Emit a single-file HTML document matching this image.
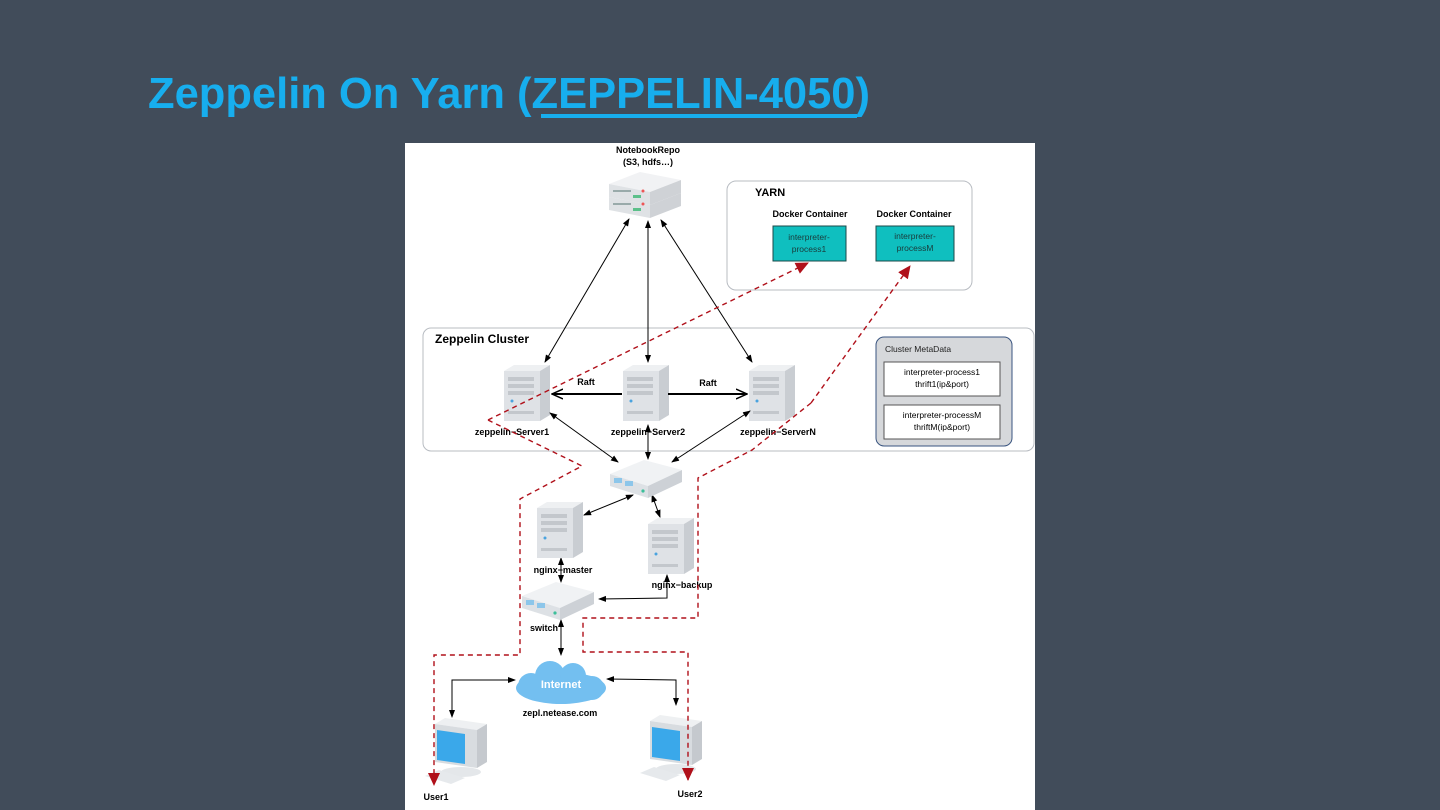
<!DOCTYPE html>
<html><head><meta charset="utf-8"><style>
html,body{margin:0;padding:0;background:#414c5a;}
svg{display:block;}
text{font-family:"Liberation Sans",sans-serif;}
</style></head><body>
<svg width="1440" height="810" viewBox="0 0 1440 810" xmlns="http://www.w3.org/2000/svg">
<defs>
  <marker id="ab" markerWidth="8" markerHeight="8" refX="7" refY="4" orient="auto-start-reverse" markerUnits="userSpaceOnUse">
    <path d="M0,1 L8,4 L0,7 Z" fill="#000"/>
  </marker>
  <marker id="ar" markerWidth="14" markerHeight="14" refX="12" refY="7" orient="auto" markerUnits="userSpaceOnUse">
    <path d="M0,1 L13,7 L0,13 Z" fill="#b0101a"/>
  </marker>
  <marker id="at" markerWidth="12" markerHeight="12" refX="11" refY="6" orient="auto-start-reverse" markerUnits="userSpaceOnUse">
    <path d="M0,1 L11,6 L0,11" fill="none" stroke="#000" stroke-width="1.5"/>
  </marker>
  <g id="tower">
    <polygon points="0,6 10,0 46,0 36,6" fill="#eef0f2"/>
    <rect x="0" y="6" width="36" height="50" fill="#dfe2e6"/>
    <polygon points="36,6 46,0 46,50 36,56" fill="#c9cdd2"/>
    <rect x="4" y="12" width="26" height="4" fill="#c3c7cc"/>
    <rect x="4" y="19" width="26" height="4" fill="#c3c7cc"/>
    <rect x="4" y="26" width="26" height="4" fill="#c3c7cc"/>
    <circle cx="8" cy="36" r="1.5" fill="#4aa3df"/>
    <rect x="4" y="46" width="26" height="3" fill="#c3c7cc"/>
  </g>
  <g id="switch">
    <polygon points="0,14 34,0 72,10 38,26" fill="#f0f2f4"/>
    <polygon points="0,14 38,26 38,38 0,26" fill="#dde1e5"/>
    <polygon points="38,26 72,10 72,22 38,38" fill="#cdd1d6"/>
    <rect x="4" y="18" width="8" height="5" fill="#8cc6ea"/>
    <rect x="15" y="21" width="8" height="5" fill="#8cc6ea"/>
    <circle cx="33" cy="31" r="1.6" fill="#3cbf9a"/>
  </g>
  <g id="pc">
    <polygon points="10,6 20,0 62,6 52,12" fill="#eef0f2"/>
    <polygon points="10,6 52,12 52,50 10,44" fill="#d8dce0"/>
    <polygon points="52,12 62,6 62,44 52,50" fill="#c5c9ce"/>
    <polygon points="12,12 40,16 40,46 12,42" fill="#3aa8ea"/>
    <ellipse cx="36" cy="54" rx="20" ry="5" fill="#e4e7ea"/>
    <polygon points="0,58 14,52 40,60 26,66" fill="#e6e9ec"/>
  </g>
</defs>

<text x="148" y="108" font-size="44" font-weight="bold" fill="#17aeee" textLength="722" lengthAdjust="spacingAndGlyphs">Zeppelin On Yarn (ZEPPELIN-4050)</text>
<rect x="541" y="114" width="316" height="4" fill="#17aeee"/>

<rect x="405" y="143" width="630" height="667" fill="#ffffff"/>

<text x="648" y="153" font-size="9" font-weight="bold" text-anchor="middle">NotebookRepo</text>
<text x="648" y="165" font-size="9" font-weight="bold" text-anchor="middle">(S3, hdfs…)</text>
<g>
  <polygon points="609,184 640,172 681,180 650,192" fill="#f1f2f4"/>
  <polygon points="609,184 650,192 650,205 609,197" fill="#dfe2e5"/>
  <polygon points="650,192 681,180 681,193 650,205" fill="#cfd2d6"/>
  <polygon points="609,197 650,205 650,218 609,210" fill="#dfe2e5"/>
  <polygon points="650,205 681,193 681,206 650,218" fill="#cfd2d6"/>
  <rect x="613" y="190" width="18" height="2" fill="#9aa"/><rect x="613" y="203" width="18" height="2" fill="#9aa"/>
  <rect x="633" y="195" width="8" height="3" fill="#5cc08a"/><rect x="633" y="208" width="8" height="3" fill="#5cc08a"/>
  <circle cx="643" cy="191" r="1.5" fill="#e55"/><circle cx="643" cy="204" r="1.5" fill="#e55"/>
</g>

<rect x="727" y="181" width="245" height="109" rx="9" fill="#fff" stroke="#b8bcc2" stroke-width="1"/>
<text x="755" y="196" font-size="11" font-weight="bold">YARN</text>
<text x="810" y="217" font-size="9" font-weight="bold" text-anchor="middle">Docker Container</text>
<text x="914" y="217" font-size="9" font-weight="bold" text-anchor="middle">Docker Container</text>
<rect x="773" y="226" width="73" height="35" fill="#0fbfbf" stroke="#1b4a4a" stroke-width="1"/>
<rect x="876" y="226" width="78" height="35" fill="#0fbfbf" stroke="#1b4a4a" stroke-width="1"/>
<text x="809" y="240" font-size="8.5" text-anchor="middle" fill="#1a3a3a">interpreter-</text>
<text x="809" y="252" font-size="8.5" text-anchor="middle" fill="#1a3a3a">process1</text>
<text x="915" y="239" font-size="8.5" text-anchor="middle" fill="#1a3a3a">interpreter-</text>
<text x="915" y="251" font-size="8.5" text-anchor="middle" fill="#1a3a3a">processM</text>

<rect x="423" y="328" width="611" height="123" rx="8" fill="#fff" stroke="#b8bcc2" stroke-width="1"/>
<text x="435" y="343" font-size="12" font-weight="bold">Zeppelin Cluster</text>

<rect x="876" y="337" width="136" height="109" rx="8" fill="#d6d8db" stroke="#3a5580" stroke-width="1"/>
<text x="885" y="352" font-size="8.5" fill="#222">Cluster MetaData</text>
<rect x="884" y="362" width="116" height="34" fill="#fff" stroke="#555"/>
<text x="942" y="375" font-size="8.5" text-anchor="middle">interpreter-process1</text>
<text x="942" y="387" font-size="8.5" text-anchor="middle">thrift1(ip&amp;port)</text>
<rect x="884" y="405" width="116" height="34" fill="#fff" stroke="#555"/>
<text x="942" y="418" font-size="8.5" text-anchor="middle">interpreter-processM</text>
<text x="942" y="430" font-size="8.5" text-anchor="middle">thriftM(ip&amp;port)</text>

<use href="#tower" x="504" y="365"/>
<use href="#tower" x="623" y="365"/>
<use href="#tower" x="749" y="365"/>
<text x="512" y="435" font-size="9" font-weight="bold" text-anchor="middle">zeppelin−Server1</text>
<text x="648" y="435" font-size="9" font-weight="bold" text-anchor="middle">zeppelin−Server2</text>
<text x="778" y="435" font-size="9" font-weight="bold" text-anchor="middle">zeppelin−ServerN</text>
<text x="586" y="385" font-size="9" font-weight="bold" text-anchor="middle">Raft</text>
<text x="708" y="386" font-size="9" font-weight="bold" text-anchor="middle">Raft</text>
<line x1="622" y1="394" x2="552" y2="394" stroke="#000" stroke-width="2" marker-end="url(#at)"/>
<line x1="668" y1="394" x2="747" y2="394" stroke="#000" stroke-width="2" marker-end="url(#at)"/>

<g stroke="#000" stroke-width="1" fill="none">
  <line x1="629" y1="219" x2="545" y2="362" marker-start="url(#ab)" marker-end="url(#ab)"/>
  <line x1="648" y1="221" x2="648" y2="362" marker-start="url(#ab)" marker-end="url(#ab)"/>
  <line x1="661" y1="220" x2="752" y2="362" marker-start="url(#ab)" marker-end="url(#ab)"/>
  <line x1="550" y1="413" x2="618" y2="462" marker-start="url(#ab)" marker-end="url(#ab)"/>
  <line x1="648" y1="425" x2="648" y2="459" marker-start="url(#ab)" marker-end="url(#ab)"/>
  <line x1="750" y1="411" x2="672" y2="462" marker-start="url(#ab)" marker-end="url(#ab)"/>
  <line x1="584" y1="515" x2="633" y2="495" marker-start="url(#ab)" marker-end="url(#ab)"/>
  <line x1="652" y1="495" x2="660" y2="517" marker-start="url(#ab)" marker-end="url(#ab)"/>
  <line x1="561" y1="558" x2="561" y2="582" marker-start="url(#ab)" marker-end="url(#ab)"/>
  <polyline points="667,575 667,598 599,599" marker-start="url(#ab)" marker-end="url(#ab)"/>
  <line x1="561" y1="620" x2="561" y2="655" marker-start="url(#ab)" marker-end="url(#ab)"/>
  <polyline points="515,680 452,680 452,717" marker-start="url(#ab)" marker-end="url(#ab)"/>
  <polyline points="607,679 676,680 676,705" marker-start="url(#ab)" marker-end="url(#ab)"/>
</g>

<use href="#switch" x="610" y="460"/>
<use href="#tower" x="537" y="502"/>
<use href="#tower" x="648" y="518"/>
<text x="563" y="573" font-size="9" font-weight="bold" text-anchor="middle">nginx−master</text>
<text x="682" y="588" font-size="9" font-weight="bold" text-anchor="middle">nginx−backup</text>
<use href="#switch" x="522" y="582"/>
<text x="530" y="631" font-size="9" font-weight="bold">switch</text>

<g fill="#73bff0">
  <ellipse cx="561" cy="688" rx="45" ry="16"/>
  <circle cx="550" cy="676" r="15"/>
  <circle cx="573" cy="676" r="13"/>
  <circle cx="531" cy="686" r="13"/>
  <circle cx="592" cy="688" r="12"/>
</g>
<text x="561" y="688" font-size="11" font-weight="bold" fill="#fff" text-anchor="middle">Internet</text>
<text x="560" y="716" font-size="9" font-weight="bold" text-anchor="middle">zepl.netease.com</text>

<use href="#pc" x="425" y="718"/>
<use href="#pc" x="640" y="715"/>
<text x="436" y="800" font-size="9" font-weight="bold" text-anchor="middle">User1</text>
<text x="690" y="797" font-size="9" font-weight="bold" text-anchor="middle">User2</text>

<g stroke="#b0101a" stroke-width="1.4" stroke-dasharray="5,4" fill="none">
  <polyline points="488,420 582,466 520,499 520,655 434,655 434,785" marker-end="url(#ar)"/>
  <line x1="488" y1="420" x2="808" y2="263" marker-end="url(#ar)"/>
  <polyline points="811,403 752,450 698,478 698,618 583,618 583,652 688,652 688,780" marker-end="url(#ar)"/>
  <line x1="811" y1="403" x2="910" y2="266" marker-end="url(#ar)"/>
</g>
</svg>
</body></html>
